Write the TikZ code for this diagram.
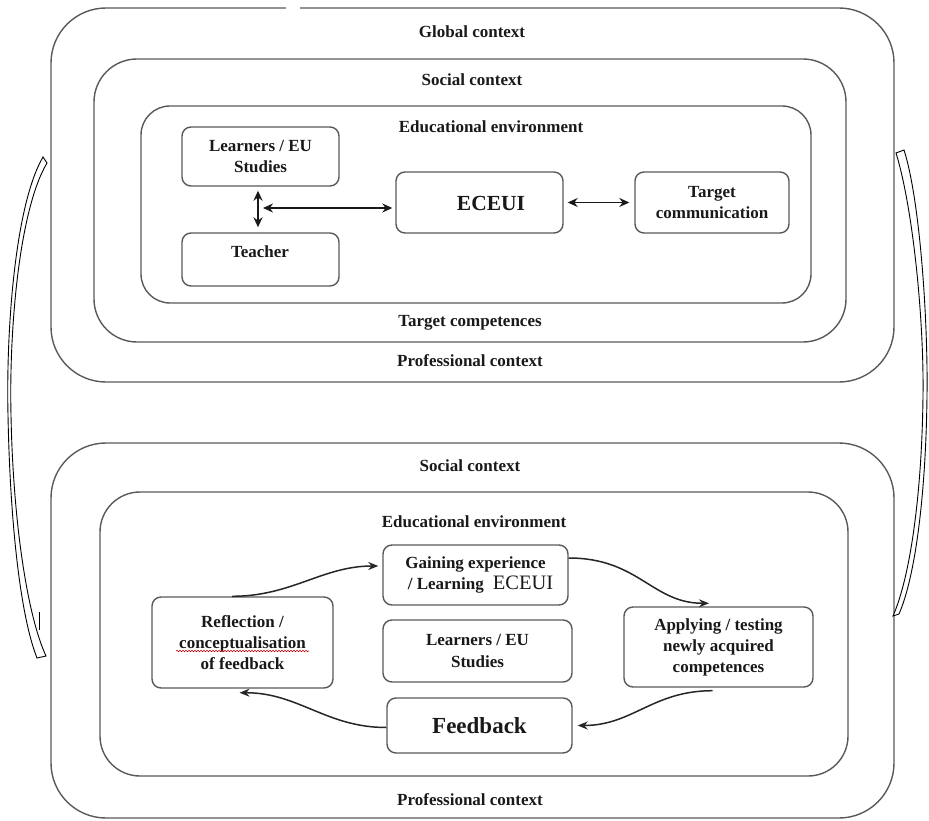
\documentclass[tikz,border=0pt]{standalone}
\usepackage{fontspec}
\setmainfont{Liberation Serif}
\usetikzlibrary{arrows.meta,decorations.pathmorphing}
\newcommand\lblfont{\fontsize{17}{21}\selectfont\bfseries}
\begin{document}
\begin{tikzpicture}[x=1pt,y=-1pt,
  frame/.style={draw=black!65, line width=1.4pt, rounded corners=#1},
  box/.style={draw=black!65, line width=1.4pt, rounded corners=9pt, inner sep=0pt,
    align=center, font=\lblfont, text=black!90},
  txt/.style={inner sep=0pt, align=center, font=\lblfont, text=black!90},
  arr/.style={draw=black!85, line width=1.5pt, -{Stealth[length=10pt,width=8pt]}},
  darr/.style={draw=black!90, line width=1.6pt, {Stealth[length=10pt,width=9pt]}-{Stealth[length=10pt,width=9pt]}},
  brace/.style={draw=black, line width=0.9pt, fill=white}
]
\path[use as bounding box] (0,0) rectangle (929,821);

% ---------- upper part ----------
\draw[frame=55pt] (51,8) rectangle (894,382);
\fill[white] (286,4) rectangle (300,12);
\draw[frame=43pt] (94,59) rectangle (846,342);
\draw[frame=29pt] (141,106) rectangle (811,303);

\node[txt] (glob) at (472,32) {Global context};
\node[txt] (soc1) at (472,80) {Social context};
\node[txt] (edu1) at (491,127) {Educational environment};
\node[txt] (tcomp) at (470,323) {Target competences};
\node[txt] (prof1) at (470,361) {Professional context};

\node[box, minimum width=157pt, minimum height=59pt] (learners) at (260.5,156.5) {Learners / EU\\Studies};
\node[box, minimum width=157pt, minimum height=53pt] (teacher) at (260.5,259.5) {};
\node[txt] (teachertxt) at (260,252) {Teacher};
\node[box, minimum width=167pt, minimum height=61pt] (eceui) at (479.5,202.5) {};
\node[txt, font=\fontsize{21.5}{24}\selectfont\bfseries] (eceuitxt) at (491,203) {ECEUI};
\node[box, minimum width=154pt, minimum height=61pt] (target) at (712,202.5) {Target\\communication};

\draw[darr, shorten <=4pt, shorten >=5pt] ([xshift=-2.5pt]learners.south) -- ([xshift=-2.5pt]teacher.north);
\coordinate (hj) at (263,208);
\draw[darr, shorten >=3pt] (hj) -- (hj -| eceui.west);
\draw[darr, shorten <=4pt, shorten >=5pt] (eceui.east) -- (target.west);

% ---------- lower part ----------
\draw[frame=55pt] (51,443) rectangle (894,818);
\draw[frame=40pt] (100,492) rectangle (848,776);

\node[txt] (soc2) at (470,466) {Social context};
\node[txt] (edu2) at (474,522) {Educational environment};
\node[txt] (prof2) at (470,800) {Professional context};

\node[box, minimum width=185pt, minimum height=60pt] (gaining) at (475.5,575)
  {Gaining experience\\\hspace*{10pt}/ Learning\hspace{9pt}{\fontsize{20.5}{21}\selectfont\mdseries ECEUI}};
\node[box, minimum width=189pt, minimum height=62pt] (learners2) at (477.5,651) {Learners / EU\\Studies};
\node[box, minimum width=185pt, minimum height=55pt, font=\fontsize{23}{25}\selectfont\bfseries] (feedback) at (479.5,725.5) {Feedback};
\node[box, minimum width=181pt, minimum height=91pt] (reflection) at (242.5,642.5)
  {Reflection /\\conceptualisation\\of feedback};
\node[box, minimum width=189pt, minimum height=80pt] (applying) at (718.5,647)
  {Applying / testing\\newly acquired\\competences};

\draw[red!75!black, line width=0.6pt, decorate,
  decoration={snake, amplitude=0.7pt, segment length=3pt}] (176,651) -- (309,651);

\draw[arr, shorten >=4pt] ([xshift=-10.5pt]reflection.north)
  .. controls +(60,0) and +(-60,0) .. ([yshift=9pt]gaining.west);
\draw[arr, shorten >=3pt] ([yshift=17pt]gaining.east)
  .. controls +(70,0) and +(-60,0) .. ([xshift=-6.5pt,yshift=3pt]applying.north);
\draw[arr, shorten >=5pt] ([xshift=-6pt,yshift=-3pt]applying.south)
  .. controls +(-60,0) and +(60,0) .. (feedback.east);
\draw[arr, shorten >=1pt] ([yshift=-2pt]feedback.west)
  .. controls +(-60,0) and +(60,0) .. ([xshift=-4pt,yshift=-4pt]reflection.south);

% ---------- side ribbons ----------
\draw[brace] (43,157) .. controls (15,205) and (6,330) .. (8,415)
  .. controls (10,520) and (20,615) .. (37,658) -- (46,656)
  .. controls (27,615) and (13,520) .. (11,415)
  .. controls (9,330) and (19,210) .. (47,163) -- cycle;
\draw[line width=0.9pt] (39,612) -- (39,630);
\draw[brace] (904,150) .. controls (920,200) and (928,320) .. (927,395)
  .. controls (926,490) and (916,575) .. (899,614) -- (893,616)
  .. controls (911,575) and (922,490) .. (923,395)
  .. controls (924,320) and (913,208) .. (896,153) -- cycle;
\end{tikzpicture}
\end{document}
